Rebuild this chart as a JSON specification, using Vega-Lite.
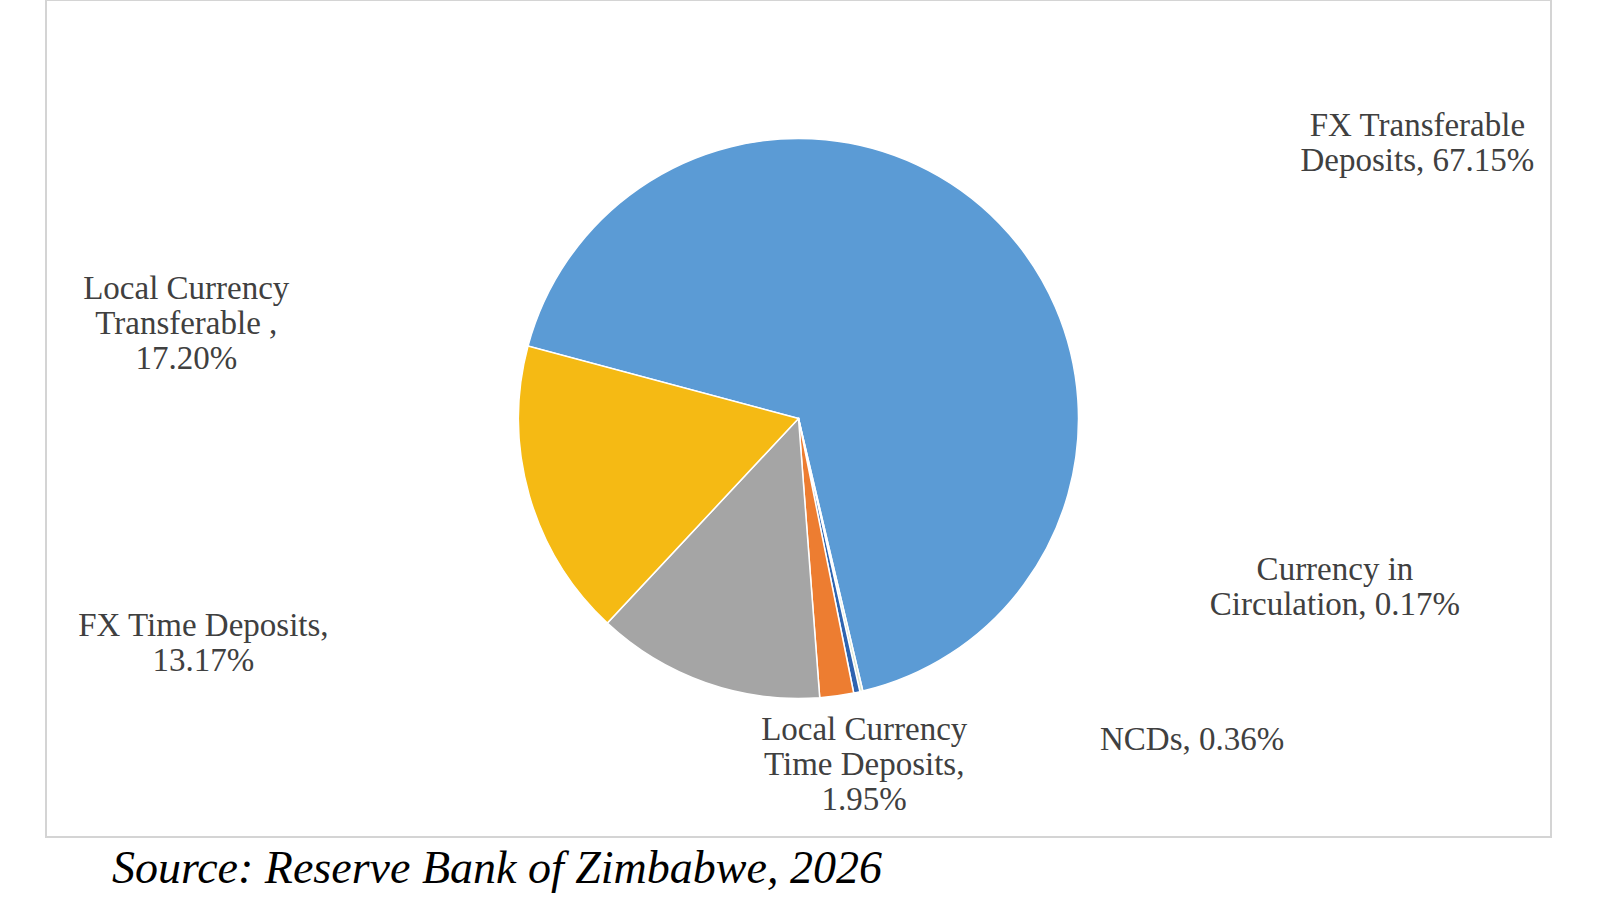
{
  "$schema": "https://vega.github.io/schema/vega-lite/v6.json",
  "autosize": "none",
  "width": 1505,
  "height": 837,
  "padding": {"left": 46, "top": 0, "right": 49, "bottom": 63},
  "background": "white",
  "config": {
    "view": {"stroke": null},
    "font": "Liberation Serif"
  },
  "title": {
    "text": "Source: Reserve Bank of Zimbabwe, 2026",
    "orient": "bottom",
    "anchor": "start",
    "frame": "group",
    "dx": 66,
    "offset": 9,
    "font": "Liberation Serif",
    "fontStyle": "italic",
    "fontWeight": "normal",
    "fontSize": 46,
    "color": "#000000"
  },
  "layer": [
    {
      "data": {"values": [{}]},
      "mark": {"type": "rect", "fill": null, "stroke": "#d4d4d4", "strokeWidth": 2},
      "encoding": {}
    },
    {
      "data": {
        "values": [
          {"category": "FX Transferable Deposits", "share": 67.15, "rank": 1, "label": "FX Transferable\nDeposits, 67.15%"},
          {"category": "Currency in Circulation", "share": 0.17, "rank": 2, "label": "Currency in\nCirculation, 0.17%"},
          {"category": "NCDs", "share": 0.36, "rank": 3, "label": "NCDs, 0.36%"},
          {"category": "Local Currency Time Deposits", "share": 1.95, "rank": 4, "label": "Local Currency\nTime Deposits,\n1.95%"},
          {"category": "FX Time Deposits", "share": 13.17, "rank": 5, "label": "FX Time Deposits,\n13.17%"},
          {"category": "Local Currency Transferable", "share": 17.2, "rank": 6, "label": "Local Currency\nTransferable ,\n17.20%"}
        ]
      },
      "encoding": {
        "theta": {"field": "share", "type": "quantitative", "stack": true, "scale": {"range": [4.974, 11.257]}},
        "order": {"field": "rank", "type": "ordinal"}
      },
      "layer": [
        {
          "mark": {"type": "arc", "outerRadius": 280, "stroke": "white", "strokeWidth": 1.5},
          "encoding": {
            "color": {
              "field": "category",
              "type": "nominal",
              "legend": null,
              "scale": {
                "domain": ["FX Transferable Deposits", "Currency in Circulation", "NCDs", "Local Currency Time Deposits", "FX Time Deposits", "Local Currency Transferable"],
                "range": ["#5B9BD5", "#DCE6CC", "#2E64B0", "#ED7D31", "#A5A5A5", "#F5BA14"]
              }
            }
          }
        },
        {
          "mark": {"type": "text", "radius": 305, "dx": 400, "dy": -80, "align": "center", "baseline": "middle", "lineBreak": "\n", "fontSize": 33, "color": "#404040"},
          "encoding": {"text": {"condition": {"test": "datum.rank === 1", "field": "label"}, "value": ""}}
        },
        {
          "mark": {"type": "text", "radius": 305, "dx": 468, "dy": -146, "align": "center", "baseline": "middle", "lineBreak": "\n", "fontSize": 33, "color": "#404040"},
          "encoding": {"text": {"condition": {"test": "datum.rank === 2", "field": "label"}, "value": ""}}
        },
        {
          "mark": {"type": "text", "radius": 305, "dx": 238, "dy": 23, "align": "left", "baseline": "middle", "lineBreak": "\n", "fontSize": 33, "color": "#404040"},
          "encoding": {"text": {"condition": {"test": "datum.rank === 3", "field": "label"}, "value": ""}}
        },
        {
          "mark": {"type": "text", "radius": 305, "dx": 24, "dy": 9, "align": "center", "baseline": "middle", "lineBreak": "\n", "fontSize": 33, "color": "#404040"},
          "encoding": {"text": {"condition": {"test": "datum.rank === 4", "field": "label"}, "value": ""}}
        },
        {
          "mark": {"type": "text", "radius": 305, "dx": -494, "dy": -80, "align": "center", "baseline": "middle", "lineBreak": "\n", "fontSize": 33, "color": "#404040"},
          "encoding": {"text": {"condition": {"test": "datum.rank === 5", "field": "label"}, "value": ""}}
        },
        {
          "mark": {"type": "text", "radius": 305, "dx": -319, "dy": -213, "align": "center", "baseline": "middle", "lineBreak": "\n", "fontSize": 33, "color": "#404040"},
          "encoding": {"text": {"condition": {"test": "datum.rank === 6", "field": "label"}, "value": ""}}
        }
      ]
    }
  ]
}
